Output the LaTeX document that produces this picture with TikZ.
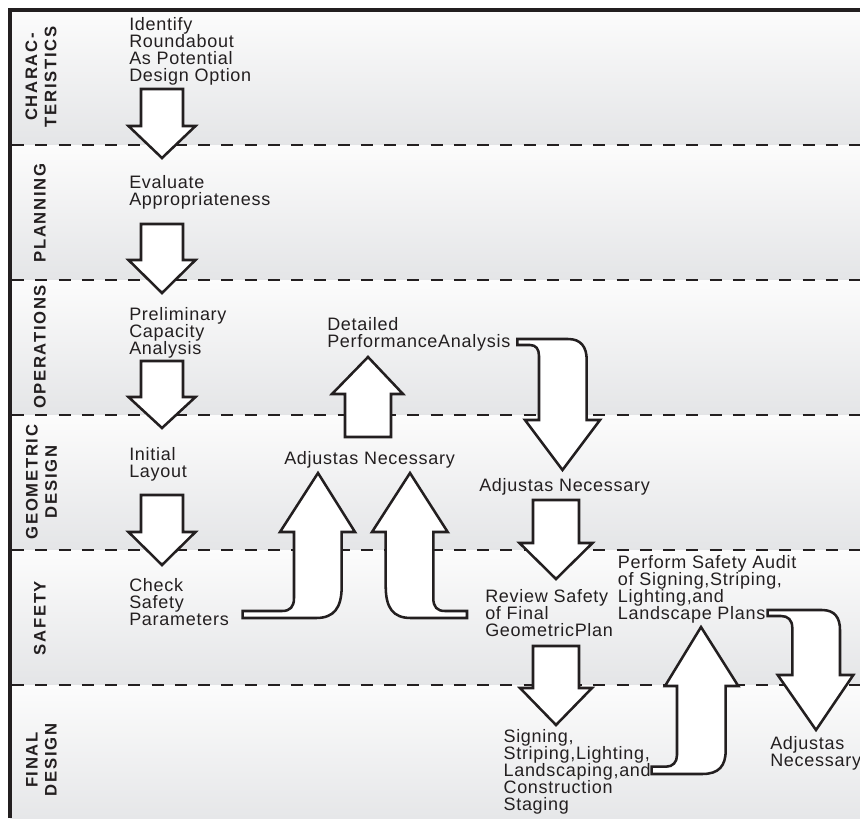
\documentclass[tikz,border=0pt]{standalone}
\usepackage{fontspec}
\newfontfamily\bodyfont{Liberation Sans}[LetterSpace=4]
\newfontfamily\lanefont{Liberation Sans}[LetterSpace=10]
\definecolor{ink}{HTML}{231F20}
\definecolor{lanetop}{HTML}{FCFCFC}
\definecolor{lanebot}{HTML}{E4E5E7}
\begin{document}
\begin{tikzpicture}[x=0.75pt,y=-0.75pt,
  blk/.style={draw=ink, fill=white, line width=1.9pt, line join=miter, miter limit=10},
  lane/.style={top color=lanetop, bottom color=lanebot, draw=none},
  sep/.style={draw=ink, line width=2pt, dash pattern=on 9pt off 8.44pt},
  lbl/.style={font=\lanefont\bfseries\fontsize{12.5}{14.3}\selectfont, text=ink, rotate=90, align=center, inner sep=0},
  txt/.style={font=\bodyfont\fontsize{13.5}{12.75}\selectfont, text=ink, align=left, inner sep=0, anchor=base west}]
\useasboundingbox (0,0) rectangle (860,818);
\fill[white] (0,0) rectangle (860,818);
\foreach \t/\b in {10/145,145/280,280/415,415/550,550/685,685/830}
  \shade[lane] (10,\t) rectangle (860,\b);
\foreach \y in {145,280,415,550,685}
  \draw[sep] (12,\y) -- (860,\y);
\draw[ink, line width=3pt] (10,818) -- (10,10) -- (860,10);

% lane labels
\node[lbl] (lchar) at (41,77) {CHARAC-\\TERISTICS};
\node[lbl] (lplan) at (40,213) {PLANNING};
\node[lbl] (lops)  at (40,347) {OPERATIONS};
\node[lbl] (lgeo)  at (41.5,482) {GEOMETRIC\\DESIGN};
\node[lbl] (lsafe) at (40,618) {SAFETY};
\node[lbl] (lfin)  at (41.5,760) {FINAL\\DESIGN};

% texts (anchored at the baseline of their last line)
\node[txt] (ident)   at (129,81.7)  {Identify\\Roundabout\\As Potential\\Design Option};
\node[txt] (eval)    at (129,205) {Evaluate\\Appropriateness};
\node[txt] (prelim)  at (129,354) {Preliminary\\Capacity\\Analysis};
\node[txt] (init)    at (129,477) {Initial\\Layout};
\node[txt] (check)   at (129,625) {Check\\Safety\\Parameters};
\node[txt] (detail)  at (327,347) {Detailed\\PerformanceAnalysis};
\node[txt] (adjA)    at (284,464) {Adjustas Necessary};
\node[txt] (adjB)    at (479,491.7) {Adjustas Necessary};
\node[txt] (review)  at (485,636) {Review Safety\\of Final\\GeometricPlan};
\node[txt] (perform) at (617.7,619.3) {Perform Safety Audit\\of Signing,Striping,\\Lighting,and\\Landscape Plans};
\node[txt] (signing) at (503.3,810.7) {Signing,\\Striping,Lighting,\\Landscaping,and\\Construction\\Staging};
\node[txt] (adjC)    at (770,766) {Adjustas\\Necessary};

% straight down arrows, left column
\foreach \t/\b/\p in {89/126/158, 224/260/293, 361/397/428, 495/532/565}
  \draw[blk] (141,\t) -- (183,\t) -- (183,\b) -- (195.5,\b) -- (162,\p) -- (128.5,\b) -- (141,\b) -- cycle;

% middle down arrows
\draw[blk] (533,500) -- (579,500) -- (579,543) -- (592.5,543) -- (556,579) -- (519.5,543) -- (533,543) -- cycle;
\draw[blk] (533,646) -- (579,646) -- (579,688) -- (592,688) -- (556,725) -- (520,688) -- (533,688) -- cycle;

% up arrow to Detailed Performance Analysis
\draw[blk] (345,437) -- (391,437) -- (391,394) -- (403,394) -- (368,357) -- (332,394) -- (345,394) -- cycle;

% bent up arrow from Check Safety Parameters
\draw[blk] (318,473) -- (355,532) -- (341.7,532) -- (341.7,586) .. controls (341.7,608) and (334,618) .. (316,618) -- (242.7,618) -- (242.7,611) -- (282,611) .. controls (290,611) and (294,607) .. (294,598) -- (294,532) -- (280,532) -- cycle;

% bent up arrow from Review Safety
\draw[blk] (410,473) -- (372,532) -- (385.7,532) -- (385.7,586) .. controls (385.7,608) and (393,618) .. (411,618) -- (467,618) -- (467,611) -- (445,611) .. controls (437,611) and (433.3,607) .. (433.3,598) -- (433.3,532) -- (447.7,532) -- cycle;

% curved down arrow from Performance Analysis
\draw[blk] (517.3,339) -- (568,339) .. controls (581,339) and (586.7,347) .. (586.7,360) -- (586.7,420) -- (600,420) -- (562.5,470) -- (525,420) -- (539,420) -- (539,356) .. controls (539,349) and (536,345) .. (530,345) -- (517.3,345) -- cycle;

% bent up arrow from Signing...
\draw[blk] (701,627) -- (665,686) -- (677,686) -- (677,755) .. controls (677,762) and (673,766.7) .. (666,766.7) -- (651.7,766.7) -- (651.7,774) -- (702,774) .. controls (719,774) and (725.7,766) .. (725.7,750) -- (725.7,686) -- (738.3,686) -- cycle;

% curved down arrow from Landscape Plans
\draw[blk] (767.7,610) -- (822,610) .. controls (835,610) and (840,618) .. (840,630) -- (840,675) -- (853.3,675) -- (816,730) -- (777.7,675) -- (792.3,675) -- (792.3,628) .. controls (792.3,620) and (788,616) .. (781,616) -- (767.7,616) -- cycle;
\end{tikzpicture}
\end{document}
